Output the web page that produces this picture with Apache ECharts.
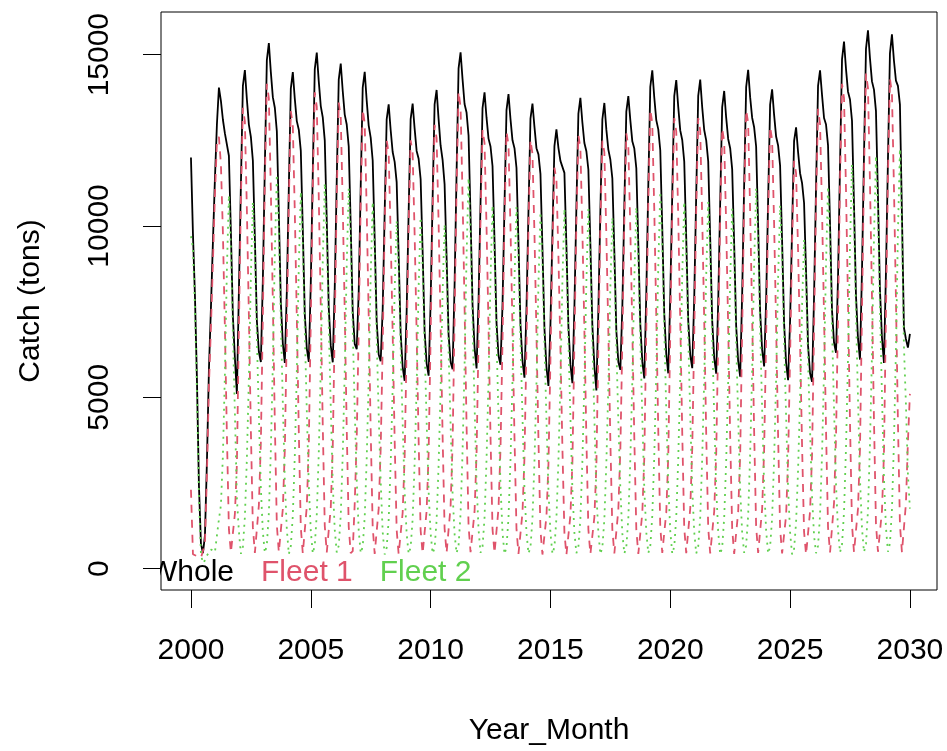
<!DOCTYPE html>
<html>
<head>
<meta charset="utf-8">
<script src="https://cdn.jsdelivr.net/npm/echarts@6/dist/echarts.min.js"></script>
<style>
  html, body { margin: 0; padding: 0; background: #ffffff; }
  #chart { width: 947px; height: 751px; }
</style>
</head>
<body>
<div id="chart"></div>
<script>
// Monthly catch (tons), January 2000 through January 2030.
const startYear = 2000;

const whole = [
  12000, 9770, 7960, 5510, 2420, 730, 450, 960, 3130, 5820, 7610, 9540,         // 2000
  11380, 12970, 14040, 13650, 13100, 12700, 12650, 12050, 9820, 7360, 6150, 5100, // 2001
  8080, 11190, 14090, 14550, 13700, 12960, 12600, 11910, 9660, 7240, 6330, 6030,  // 2002
  8430, 11780, 14840, 15340, 14490, 13760, 13450, 12770, 10370, 7780, 6570, 6000, // 2003
  8090, 11100, 14010, 14490, 13710, 13060, 12810, 12200, 9900, 7420, 6430, 6030,  // 2004
  8330, 11560, 14580, 15060, 14220, 13500, 13170, 12500, 10150, 7610, 6500, 6020, // 2005
  8200, 11350, 14270, 14740, 13940, 13250, 12960, 12320, 10000, 7500, 6560, 6400, // 2006
  8080, 11170, 14040, 14500, 13660, 12930, 12580, 11910, 9630, 7220, 6250, 6050,  // 2007
  7570, 10410, 13110, 13550, 12800, 12160, 11870, 11280, 9150, 6870, 5890, 5480,  // 2008
  7500, 10410, 13120, 13570, 12840, 12190, 11960, 11370, 9260, 6920, 5990, 5630,  // 2009
  7760, 10800, 13550, 13970, 13120, 12350, 11930, 11220, 9100, 6830, 6030, 5820,  // 2010
  8260, 11550, 14600, 15070, 14280, 13560, 13310, 12640, 10280, 7700, 6450, 5840, // 2011
  7800, 10700, 13440, 13900, 13160, 12550, 12320, 11750, 9570, 7170, 6210, 5950,  // 2012
  7690, 10620, 13380, 13850, 13120, 12500, 12270, 11700, 9500, 7120, 6060, 5570,  // 2013
  7570, 10420, 13130, 13570, 12890, 12270, 12090, 11520, 9350, 7010, 5890, 5330,  // 2014
  7120, 9790, 12330, 12820, 12280, 11900, 11910, 11550, 9430, 7070, 5960, 5410,   // 2015
  7630, 10570, 13280, 13740, 13020, 12420, 12180, 11640, 9470, 7090, 5910, 5200,  // 2016
  7540, 10440, 13110, 13590, 12810, 12230, 11940, 11390, 9260, 6940, 6030, 5800,  // 2017
  7630, 10600, 13340, 13790, 13090, 12470, 12260, 11690, 9490, 7130, 6040, 5550,  // 2018
  8030, 11170, 14060, 14540, 13750, 13090, 12820, 12210, 9920, 7430, 6260, 5700,  // 2019
  7940, 10950, 13790, 14260, 13470, 12790, 12510, 11880, 9650, 7230, 6240, 5850,  // 2020
  7890, 10940, 13800, 14270, 13460, 12800, 12500, 11890, 9630, 7230, 6150, 5690,  // 2021
  7750, 10700, 13470, 13940, 13160, 12540, 12270, 11660, 9470, 7080, 6060, 5600,  // 2022
  8000, 11200, 14050, 14560, 13760, 13160, 12880, 12320, 10010, 7490, 6390, 5900, // 2023
  7820, 10760, 13540, 13990, 13240, 12610, 12350, 11760, 9560, 7160, 6000, 5500,  // 2024
  7250, 9930, 12480, 12880, 12160, 11540, 11250, 10670, 8670, 6500, 5700, 5450,   // 2025
  7950, 11150, 14090, 14540, 13820, 13150, 12960, 12350, 10060, 7530, 6600, 6300, // 2026
  8480, 11790, 14860, 15380, 14580, 13920, 13690, 13070, 10630, 7960, 6710, 6100, // 2027
  8690, 12040, 15170, 15710, 14890, 14220, 13980, 13350, 10850, 8130, 6740, 6000, // 2028
  8640, 11930, 15040, 15590, 14830, 14240, 14090, 13540, 10380, 7030, 6700, 6450, // 2029
  6850                                                                            // 2030
];

const fleet1 = [
  2300, 420, 380, 360, 330, 310, 290, 720, 2750, 5350, 7050, 8950,           // 2000
  10900, 12450, 12600, 11800, 9800, 7000, 3900, 1150, 470, 510, 1600, 3050,  // 2001
  6990, 10760, 13450, 13050, 10490, 7400, 4040, 1210, 460, 500, 1840, 3680,  // 2002
  7360, 11320, 14150, 13730, 11040, 7780, 4250, 1270, 480, 530, 1740, 3470,  // 2003
  6940, 10680, 13350, 12950, 10410, 7340, 4010, 1200, 440, 490, 1810, 3610,  // 2004
  7230, 11120, 13900, 13480, 10840, 7650, 4170, 1250, 470, 520, 1770, 3540,  // 2005
  7070, 10880, 13600, 13190, 10610, 7480, 4080, 1220, 450, 510, 1900, 3800,  // 2006
  6970, 10720, 13400, 13000, 10450, 7370, 4020, 1210, 430, 480, 1750, 3500,  // 2007
  6500, 10000, 12500, 12130, 9750, 6880, 3750, 1130, 420, 470, 1630, 3250,   // 2008
  6480, 9980, 12500, 12130, 9760, 6860, 3760, 1120, 440, 460, 1680, 3370,    // 2009
  6730, 10360, 12950, 12560, 10100, 7120, 3890, 1170, 460, 500, 1810, 3610,  // 2010
  7250, 11100, 13920, 13470, 10860, 7630, 4190, 1240, 480, 520, 1660, 3330,  // 2011
  6660, 10240, 12800, 12420, 9980, 7040, 3840, 1150, 450, 490, 1760, 3520,   // 2012
  6630, 10200, 12750, 12370, 9950, 7010, 3830, 1150, 430, 470, 1630, 3250,   // 2013
  6520, 9980, 12510, 12110, 9770, 6860, 3770, 1120, 410, 460, 1520, 3040,    // 2014
  6080, 9360, 11700, 11350, 9130, 6440, 3510, 1050, 400, 450, 1550, 3100,    // 2015
  6580, 10120, 12650, 12270, 9870, 6960, 3800, 1140, 420, 470, 1500, 3000,   // 2016
  6490, 10020, 12490, 12150, 9730, 6900, 3740, 1140, 440, 480, 1720, 3450,   // 2017
  6600, 10160, 12700, 12320, 9910, 6990, 3810, 1140, 430, 470, 1620, 3230,   // 2018
  6970, 10720, 13400, 13000, 10450, 7370, 4020, 1210, 460, 500, 1640, 3280,  // 2019
  6840, 10520, 13150, 12760, 10260, 7230, 3950, 1180, 450, 490, 1750, 3500,  // 2020
  6820, 10500, 13150, 12780, 10240, 7250, 3930, 1190, 440, 480, 1670, 3340,  // 2021
  6680, 10280, 12850, 12460, 10020, 7070, 3860, 1160, 430, 470, 1650, 3290,  // 2022
  6950, 10740, 13380, 13010, 10430, 7390, 4000, 1220, 460, 500, 1730, 3460,  // 2023
  6710, 10320, 12900, 12510, 10060, 7100, 3870, 1160, 440, 480, 1550, 3170,  // 2024
  6190, 9520, 11900, 11540, 9280, 6550, 3570, 1070, 410, 450, 1670, 3340,    // 2025
  6990, 10700, 13420, 12980, 10470, 7350, 4040, 1200, 470, 510, 1920, 3850,  // 2026
  7360, 11320, 14150, 13730, 11040, 7780, 4250, 1270, 480, 530, 1750, 3500,  // 2027
  7510, 11560, 14450, 14020, 11270, 7950, 4340, 1300, 490, 540, 1680, 3350,  // 2028
  7440, 11440, 14300, 13870, 11150, 7870, 4290, 1290, 480, 530, 1900, 3700,  // 2029
  5100                                                                       // 2030
];

const fleet2 = [
  9700, 9350, 7580, 5150, 2090, 420, 160, 240, 380, 470, 560, 590,           // 2000
  480, 520, 1440, 1850, 3300, 5700, 8750, 10900, 9350, 6850, 4550, 2050,     // 2001
  1090, 430, 640, 1500, 3210, 5560, 8560, 10700, 9200, 6740, 4490, 2350,     // 2002
  1070, 460, 690, 1610, 3450, 5980, 9200, 11500, 9890, 7250, 4830, 2530,     // 2003
  1150, 420, 660, 1540, 3300, 5720, 8800, 11000, 9460, 6930, 4620, 2420,     // 2004
  1100, 440, 680, 1580, 3380, 5850, 9000, 11250, 9680, 7090, 4730, 2480,     // 2005
  1130, 470, 670, 1550, 3330, 5770, 8880, 11100, 9550, 6990, 4660, 2600,     // 2006
  1110, 450, 640, 1500, 3210, 5560, 8560, 10700, 9200, 6740, 4500, 2550,     // 2007
  1070, 410, 610, 1420, 3050, 5280, 8120, 10150, 8730, 6400, 4260, 2230,     // 2008
  1020, 430, 620, 1440, 3080, 5330, 8200, 10250, 8820, 6460, 4310, 2260,     // 2009
  1030, 440, 600, 1410, 3020, 5230, 8040, 10050, 8640, 6330, 4220, 2210,     // 2010
  1010, 450, 680, 1600, 3420, 5930, 9120, 11400, 9800, 7180, 4790, 2510,     // 2011
  1140, 460, 640, 1480, 3180, 5510, 8480, 10600, 9120, 6680, 4450, 2430,     // 2012
  1060, 420, 630, 1480, 3170, 5490, 8440, 10550, 9070, 6650, 4430, 2320,     // 2013
  1050, 440, 620, 1460, 3120, 5410, 8320, 10400, 8940, 6550, 4370, 2290,     // 2014
  1040, 430, 630, 1470, 3150, 5460, 8400, 10500, 9030, 6620, 4410, 2310,     // 2015
  1050, 450, 630, 1470, 3150, 5460, 8380, 10500, 9050, 6620, 4410, 2200,     // 2016
  1050, 420, 620, 1440, 3080, 5330, 8200, 10250, 8820, 6460, 4310, 2350,     // 2017
  1030, 440, 640, 1470, 3180, 5480, 8450, 10550, 9060, 6660, 4420, 2320,     // 2018
  1060, 450, 660, 1540, 3300, 5720, 8800, 11000, 9460, 6930, 4620, 2420,     // 2019
  1100, 430, 640, 1500, 3210, 5560, 8560, 10700, 9200, 6740, 4490, 2350,     // 2020
  1070, 440, 650, 1490, 3220, 5550, 8570, 10700, 9190, 6750, 4480, 2350,     // 2021
  1070, 420, 620, 1480, 3140, 5470, 8410, 10500, 9040, 6610, 4410, 2310,     // 2022
  1050, 460, 670, 1550, 3330, 5770, 8880, 11100, 9550, 6990, 4660, 2440,     // 2023
  1110, 440, 640, 1480, 3180, 5510, 8480, 10600, 9120, 6680, 4450, 2330,     // 2024
  1060, 410, 580, 1340, 2880, 4990, 7680, 9600, 8260, 6050, 4030, 2110,      // 2025
  960, 450, 670, 1560, 3350, 5800, 8920, 11150, 9590, 7020, 4680, 2450,      // 2026
  1120, 470, 710, 1650, 3540, 6140, 9440, 11800, 10150, 7430, 4960, 2600,    // 2027
  1180, 480, 720, 1690, 3620, 6270, 9640, 12050, 10360, 7590, 5060, 2650,    // 2028
  1200, 490, 740, 1720, 3680, 6370, 9800, 12250, 9900, 6500, 4800, 2750,     // 2029
  1750                                                                       // 2030
];

const xTicks = [2000, 2005, 2010, 2015, 2020, 2025, 2030];
const yTicks = [0, 5000, 10000, 15000];
const seriesNames = ['Whole', 'Fleet 1', 'Fleet 2'];
const seriesColors = ['#000000', '#DF536B', '#61D04F'];

// Decimal-year position of each monthly observation.
const time = whole.map((_, i) => startYear + i / 12);
const toPairs = values => values.map((v, i) => [time[i], v]);

const FONT = 'Liberation Sans, Arial, sans-serif';
const GRID = { left: 161, right: 10, top: 12, bottom: 157 };

const chart = echarts.init(document.getElementById('chart'), null, { renderer: 'canvas' });

function lineSeries(name, values, color, dash) {
  return {
    name: name,
    type: 'line',
    data: toPairs(values),
    showSymbol: false,
    symbol: 'none',
    silent: true,
    clip: true,
    emphasis: { disabled: true },
    lineStyle: { color: color, width: 1.8, type: dash, cap: 'butt' },
    itemStyle: { color: color },
    z: 2
  };
}

// A white strip left of the plotting region hides the part of the legend text
// that falls outside it; the y axis sits on a higher layer so its tick stays visible.
const clipStrip = { x: 120, y: 552, width: GRID.left - 1 - 120, height: 40 };

chart.setOption({
  animation: false,
  backgroundColor: '#ffffff',
  grid: Object.assign({ show: true, borderColor: '#000000', borderWidth: 1, backgroundColor: 'transparent' }, GRID),
  xAxis: {
    type: 'value',
    min: 1998.75,
    max: 2031.13,
    name: 'Year_Month',
    nameLocation: 'middle',
    nameGap: 126,
    nameTextStyle: { fontFamily: FONT, fontSize: 30, color: '#000000' },
    axisLine: { show: false, onZero: false },
    splitLine: { show: false },
    axisTick: { show: true, inside: false, length: 18, customValues: xTicks, lineStyle: { color: '#000000', width: 1 } },
    axisLabel: { customValues: xTicks, margin: 46, fontFamily: FONT, fontSize: 30, color: '#000000', formatter: v => String(v) }
  },
  yAxis: {
    type: 'value',
    min: -625,
    max: 16245,
    zlevel: 2,
    name: 'Catch (tons)',
    nameLocation: 'middle',
    nameGap: 115,
    nameRotate: 90,
    nameTextStyle: { fontFamily: FONT, fontSize: 30, color: '#000000' },
    axisLine: { show: false, onZero: false },
    splitLine: { show: false },
    axisTick: { show: true, inside: false, length: 18, customValues: yTicks, lineStyle: { color: '#000000', width: 1 } },
    axisLabel: { customValues: yTicks, rotate: 90, margin: 46, fontFamily: FONT, fontSize: 30, color: '#000000', formatter: v => String(v) }
  },
  legend: {
    show: true,
    selectedMode: false,
    left: 144,
    top: 558,
    padding: 0,
    itemWidth: 0,
    itemHeight: 0,
    itemGap: 22,
    icon: 'rect',
    z: 4,
    textStyle: { fontFamily: FONT, fontSize: 30 },
    data: seriesNames.map((n, i) => ({ name: n, textStyle: { color: seriesColors[i] } }))
  },
  graphic: [{
    type: 'rect',
    zlevel: 1,
    z: 5,
    silent: true,
    shape: clipStrip,
    style: { fill: '#ffffff' }
  }],
  series: [
    lineSeries(seriesNames[0], whole, seriesColors[0], 'solid'),
    lineSeries(seriesNames[1], fleet1, seriesColors[1], [8, 7]),
    lineSeries(seriesNames[2], fleet2, seriesColors[2], [2, 5])
  ]
});
</script>
</body>
</html>
